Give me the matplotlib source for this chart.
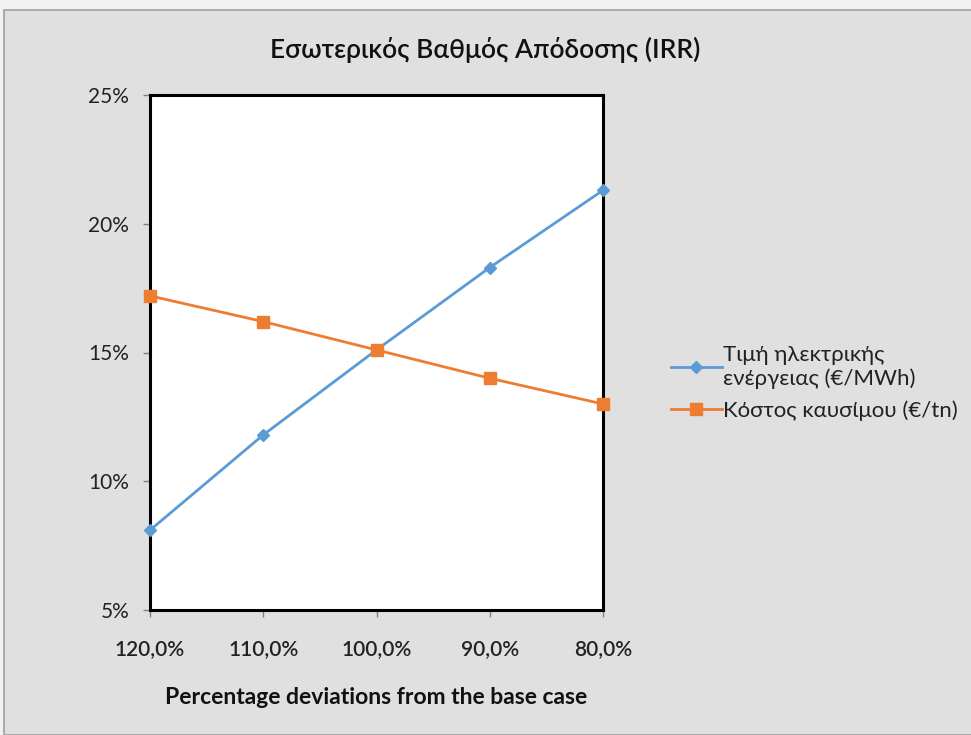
import matplotlib
matplotlib.use("Agg")
import matplotlib.pyplot as plt
from matplotlib.patches import Rectangle
from matplotlib.ticker import FuncFormatter

categories = ["120,0%", "110,0%", "100,0%", "90,0%", "80,0%"]
electricity_price = [8.1, 11.8, 15.1, 18.3, 21.3]
fuel_cost = [17.2, 16.2, 15.1, 14.0, 13.0]
series_names = ["Τιμή ηλεκτρικής\nενέργειας (€/MWh)", "Κόστος καυσίμου (€/tn)"]

plt.rcParams["font.family"] = ["Lato", "DejaVu Sans"]

fig = plt.figure(figsize=(9.71, 7.35), dpi=100, facecolor="#f2f2f2")
fig.patches.append(Rectangle((4 / 971, 0), 1, 1 - 10 / 735, transform=fig.transFigure,
                             facecolor="#e0e0e0", edgecolor="#a0a0a0", linewidth=1.2,
                             zorder=-5))

ax = fig.add_axes([150 / 971, 1 - 610 / 735, 453 / 971, 515 / 735])
ax.set_facecolor("white")
x = list(range(len(categories)))
ax.plot(x, electricity_price, color="#5b9bd5", linewidth=2, marker="D", markersize=6,
        label=series_names[0], clip_on=False, zorder=3)
ax.plot(x, fuel_cost, color="#ed7d31", linewidth=2, marker="s", markersize=9,
        label=series_names[1], clip_on=False, zorder=3)

ax.set_xlim(0, len(categories) - 1)
ax.set_ylim(5, 25)
ax.set_yticks([5, 10, 15, 20, 25])
ax.yaxis.set_major_formatter(FuncFormatter(lambda v, p: f"{v:.0f}%"))
ax.set_xticks(x)
ax.set_xticklabels(categories)
ax.tick_params(axis="both", direction="out", length=5, width=1, color="#808080",
               labelcolor="#222222")
ax.tick_params(axis="y", labelsize=15, pad=10)
ax.tick_params(axis="x", labelsize=15, pad=16)
for lbl in ax.get_xticklabels():
    lbl.set_fontweight("semibold")
for side, spine in ax.spines.items():
    spine.set_color("black")
    spine.set_linewidth(2.2)

ax.set_xlabel("Percentage deviations from the base case", fontsize=16.5,
              fontweight="bold", color="#111111", labelpad=20)
fig.text(0.5, 1 - 50 / 735, "Εσωτερικός Βαθμός Απόδοσης (IRR)", ha="center",
         va="center", fontsize=19, color="#111111", fontweight="semibold")

leg = fig.legend(loc="upper left", bbox_to_anchor=(662 / 971, 1 - 336 / 735),
                 frameon=False, fontsize=16, handlelength=2.3, handletextpad=0.05,
                 labelspacing=0.5, borderaxespad=0)
for t in leg.get_texts():
    t.set_color("#222222")

fig.savefig("out.png", dpi=100, facecolor=fig.get_facecolor())
